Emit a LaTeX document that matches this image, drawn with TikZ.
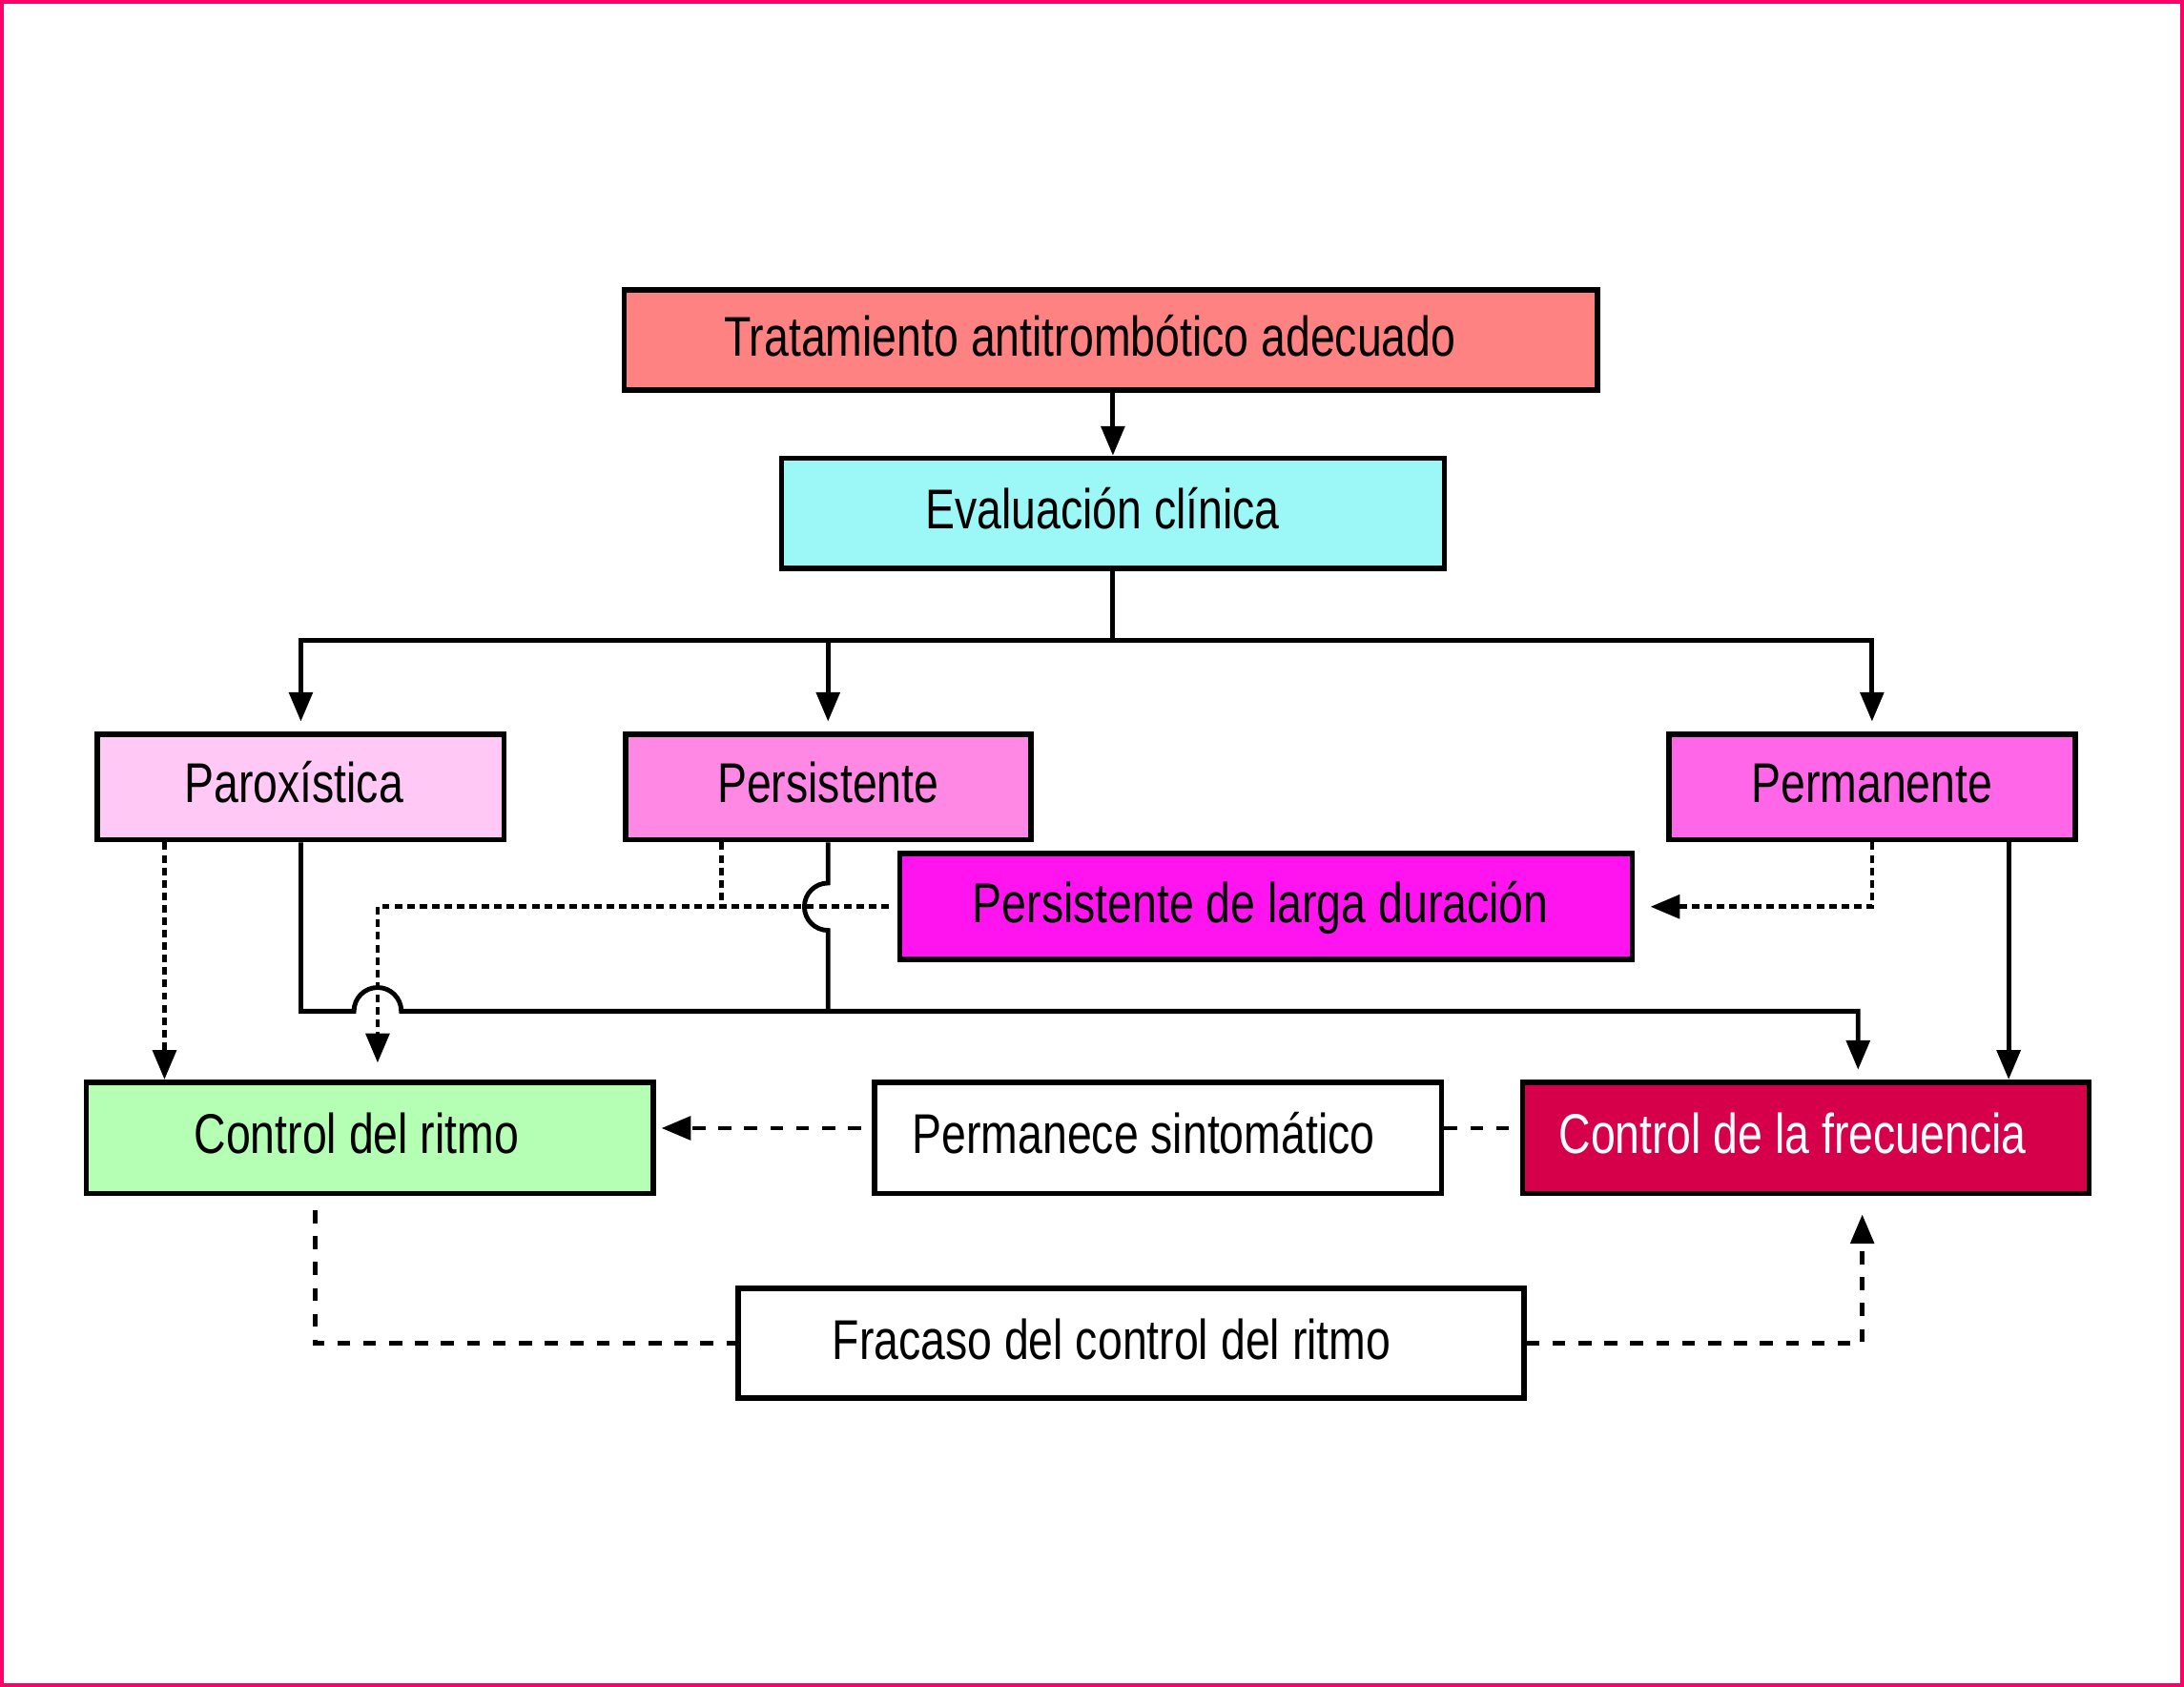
\documentclass[tikz,border=0pt]{standalone}
\usepackage{fontspec}
\setmainfont[FakeStretch=0.79]{Liberation Sans}
\usepackage{tikz}
\usetikzlibrary{arrows.meta, calc, positioning}
\definecolor{framepink}{RGB}{255,0,102}
\definecolor{tratcol}{RGB}{255,130,130}
\definecolor{evalcol}{RGB}{156,248,246}
\definecolor{parocol}{RGB}{255,200,245}
\definecolor{perscol}{RGB}{255,136,228}
\definecolor{permcol}{RGB}{255,102,232}
\definecolor{largacol}{RGB}{255,20,240}
\definecolor{ritmocol}{RGB}{180,255,180}
\definecolor{freccol}{RGB}{214,0,74}
\newcommand*{\boxfont}{\fontsize{22.9pt}{27pt}\selectfont}

\begin{document}
\begin{tikzpicture}[x=0.02cm, y=-0.02cm,
  box/.style={draw, line width=2.2pt, inner sep=0pt, font=\boxfont, text height=16.4pt, text depth=3.4pt},
  conn/.style={line width=1.9pt},
  dots/.style={conn, dash pattern=on 3.1pt off 2pt},
  dashes/.style={conn, dash pattern=on 5.3pt off 5.3pt},
  tip/.style={-{Triangle[length=12pt,width=9.5pt]}}]
 \useasboundingbox (0,0) rectangle (1568,1211);
 \draw[framepink, line width=1.55pt] (1.4,1.4) rectangle (1566.6,1209.6);

 \node[box, fill=tratcol, minimum width=13.98cm, minimum height=1.44cm] (trat) at (797.5,244) {Tratamiento antitrombótico adecuado\hspace*{0.6cm}};
 \node[box, fill=evalcol, minimum width=9.52cm, minimum height=1.58cm] (eval) at (799,368.5) {Evaluación clínica\hspace*{0.3cm}};
 \node[box, fill=parocol, minimum width=5.84cm, minimum height=1.52cm] (paro) at (216,565) {Paroxística\hspace*{0.2cm}};
 \node[box, fill=perscol, minimum width=5.82cm, minimum height=1.52cm] (pers) at (594.5,565) {Persistente};
 \node[box, fill=permcol, minimum width=5.84cm, minimum height=1.52cm] (perm) at (1344,565) {Permanente};
 \node[box, fill=largacol, minimum width=10.52cm, minimum height=1.52cm] (larga) at (909,651) {Persistente de larga duración\hspace*{0.16cm}};
 \node[box, fill=ritmocol, minimum width=8.14cm, minimum height=1.6cm] (ritmo) at (265.5,817) {Control del ritmo\hspace*{0.38cm}};
 \node[box, fill=white, minimum width=8.14cm, minimum height=1.6cm] (sint) at (831.5,817) {Permanece sintomático\hspace*{0.42cm}};
 \node[box, fill=freccol, text=white, minimum width=8.14cm, minimum height=1.6cm] (frec) at (1296.5,817) {Control de la frecuencia\hspace*{0.38cm}};
 \node[box, fill=white, minimum width=11.28cm, minimum height=1.58cm] (fracaso) at (812,964.5) {Fracaso del control del ritmo\hspace*{0.56cm}};

 \coordinate (bus) at (0,460);
 \coordinate (lo) at (0,726);
 \coordinate (paL) at ($(paro.south west)+(50,0)$);
 \coordinate (peL) at ($(pers.south west)+(71,0)$);
 \coordinate (pmL) at ($(perm.south west)+(148,0)$);
 \coordinate (pmR) at ($(perm.south west)+(246,0)$);
 \coordinate (drop) at ($(ritmo.north west)+(211,-12)$);
 \coordinate (fdrop) at ($(frec.north)+(37.5,0)$);

 \draw[conn, tip] (trat.south -| eval.north) -- (eval.north);
 \draw[conn, tip, shorten >=4pt] (eval.south) -- (eval.south |- bus) -| (paro.north);
 \draw[conn, tip, shorten >=4pt] (eval.south |- bus) -| (perm.north);
 \draw[conn, tip, shorten >=4pt] (pers.north |- bus) -- (pers.north);

 \draw[dots, tip] (paL) -- (paL |- ritmo.north);
 \draw[conn, tip, shorten >=4pt] (paro.south) |- ($(drop |- lo)+(-17,0)$) arc[start angle=180, end angle=0, radius=0.34cm] -| (fdrop);
 \draw[conn] (pers.south) -- ($(pers.south |- larga.west)+(0,-17)$) arc[start angle=90, end angle=270, radius=0.34cm] -- (pers.south |- lo);
 \draw[dots] (peL) -- (peL |- larga.west);
 \draw[dots, tip] ($(larga.west)+(-6,0)$) -| (drop);
 \draw[dots, tip] (pmL) |- ($(larga.east)+(11,0)$);
 \draw[conn, tip] (pmR) -- (pmR |- frec.north);

 \draw[dashes, tip] ($(sint.west)+(-8,-7)$) -- ($(ritmo.east)+(4,-7)$);
 \draw[dashes] ($(sint.east)+(0,-7)$) -- ($(frec.west)+(0,-7)$);
 \draw[dashes] ($(ritmo.south)+(-39.5,10)$) |- (fracaso.west);
 \draw[dashes, tip] (fracaso.east) -| ($(frec.south)+(40.5,13)$);
\end{tikzpicture}
\end{document}
